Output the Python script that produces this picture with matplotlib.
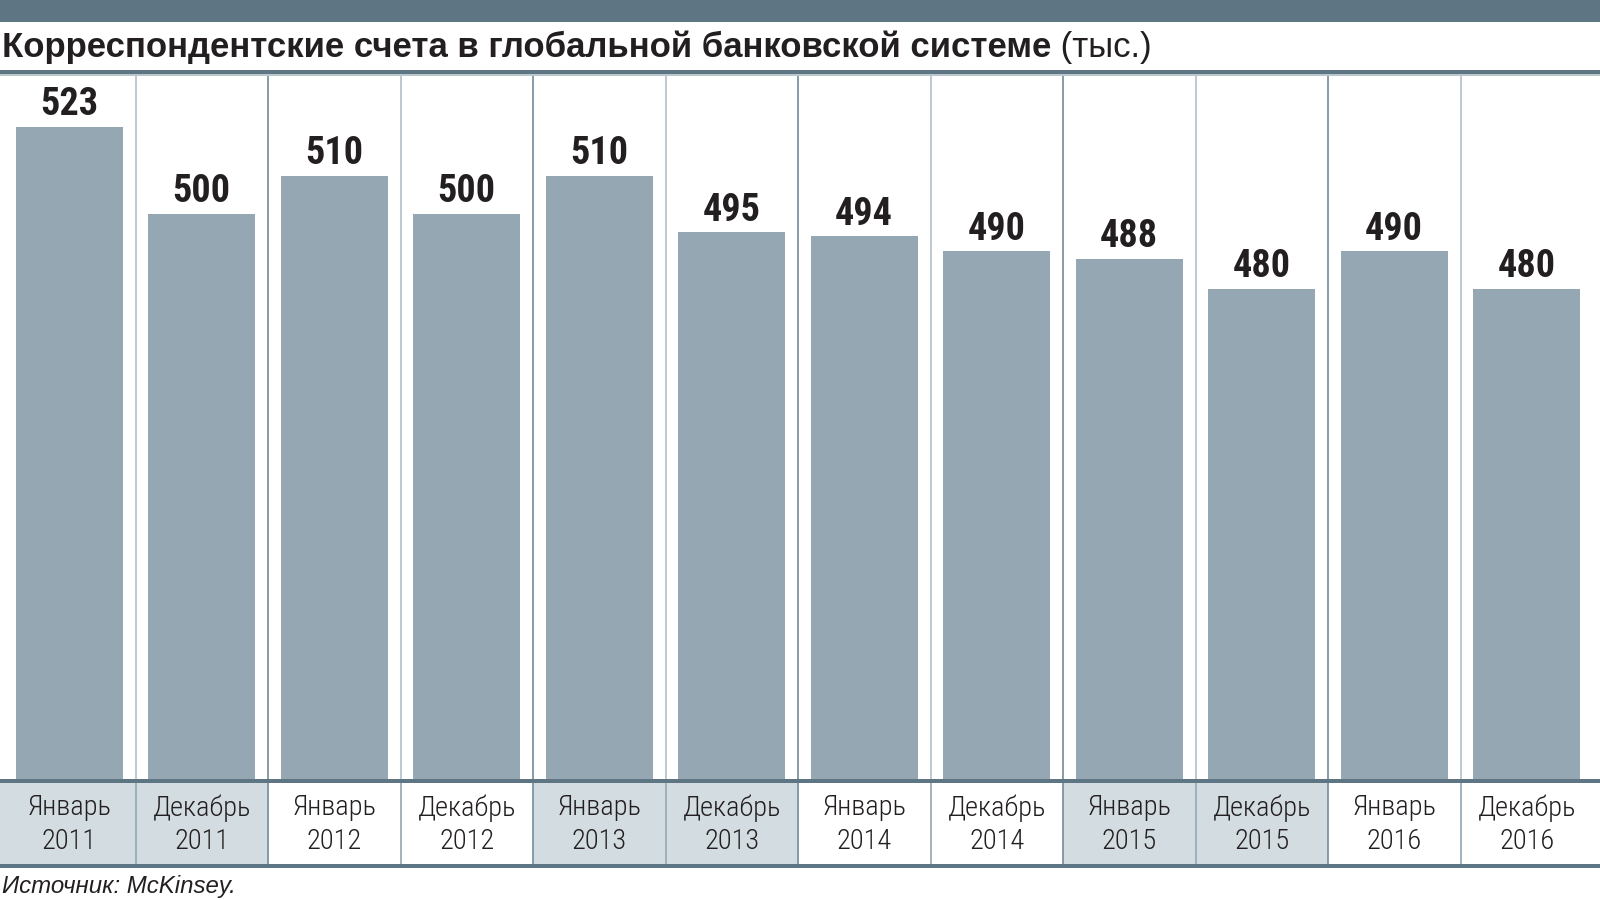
import matplotlib
matplotlib.use("Agg")
import matplotlib.pyplot as plt
from matplotlib.patches import Rectangle
import warnings
warnings.filterwarnings("ignore")

# ---- data ----
months = ["Январь", "Декабрь", "Январь", "Декабрь", "Январь", "Декабрь",
          "Январь", "Декабрь", "Январь", "Декабрь", "Январь", "Декабрь"]
years = ["2011", "2011", "2012", "2012", "2013", "2013",
         "2014", "2014", "2015", "2015", "2016", "2016"]
values = [523, 500, 510, 500, 510, 495, 494, 490, 488, 480, 490, 480]
title_bold = "Корреспондентские счета в глобальной банковской системе"
title_unit = " (тыс.)"
source = "Источник: McKinsey."

# ---- style ----
DARK = "#5E7583"
BAR = "#94A7B2"
SHADE = "#D3DCE1"
SEP_LIGHT = "#B7C5CD"
SEP_DARK = "#7D93A1"
TXT = "#231F20"
NUM_FONT = ["Roboto Condensed", "Oswald", "IBM Plex Sans Condensed", "DejaVu Sans"]
LAB_FONT = ["Roboto Condensed", "IBM Plex Sans Condensed", "DejaVu Sans"]
TITLE_FONT = ["Liberation Sans", "DejaVu Sans"]

W, H = 1600, 900
fig = plt.figure(figsize=(16, 9), dpi=100)
fig.patch.set_facecolor("white")


def fy(px):  # top-based pixel -> figure fraction
    return 1 - px / H


def hband(y0, y1, color):
    fig.add_artist(Rectangle((0, fy(y1)), 1, (y1 - y0) / H, transform=fig.transFigure,
                             facecolor=color, edgecolor="none", zorder=5))


# top band and title lines
hband(0, 22, DARK)
hband(70.5, 74, DARK)
hband(74, 75.5, "#B9C6CD")

# horizontal extent of the columns (pixels)
x_left, x_right = 3, 1593

# chart axes
chart_top, chart_bot = 75.5, 779
ax = fig.add_axes([x_left / W, fy(chart_bot), (x_right - x_left) / W,
                   (chart_bot - chart_top) / H])
n = len(values)
x = list(range(n))
ax.set_xlim(-0.5, n - 0.5)
ymin = 350
px_per_unit = 3.77
ax.set_ylim(ymin, ymin + (chart_bot - chart_top) / px_per_unit)
ax.axis("off")
ax.bar(x, [v - ymin for v in values], bottom=ymin, width=0.81, color=BAR, zorder=2)
for i in range(n - 1):
    c = SEP_DARK if i % 2 == 1 else SEP_LIGHT
    ax.axvline(i + 0.5, color=c, lw=1.3, zorder=1)
for xi, v in zip(x, values):
    ax.annotate(f"{v}", (xi, v), xytext=(0, 2.5), textcoords="offset points",
                ha="center", va="bottom", fontsize=27.5, fontweight="bold",
                family=NUM_FONT, color=TXT, fontstretch="condensed")

# bottom lines and label band
hband(779, 782.5, DARK)
band_top, band_bot = 782.5, 864
hband(864, 867.5, DARK)
ax2 = fig.add_axes([x_left / W, fy(band_bot), (x_right - x_left) / W,
                    (band_bot - band_top) / H])
ax2.set_xlim(-0.5, n - 0.5)
ax2.set_ylim(0, 1)
ax2.axis("off")
for i in range(0, n, 4):
    lo = i - 0.5 if i > 0 else -0.53
    ax2.add_patch(Rectangle((lo, 0), i + 1.5 - lo, 1, facecolor=SHADE,
                            edgecolor="none", zorder=0, clip_on=False))
for i in range(n - 1):
    c = SEP_DARK if i % 2 == 1 else "#9AADB8"
    ax2.axvline(i + 0.5, color=c, lw=1.3, zorder=1)
for xi, m, yv in zip(x, months, years):
    ax2.text(xi, 0.69, m, ha="center", va="center", fontsize=20.5, fontweight="light",
             family=LAB_FONT, color=TXT, fontstretch="condensed")
    ax2.text(xi, 0.27, yv, ha="center", va="center", fontsize=20.5, fontweight="light",
             family=LAB_FONT, color=TXT, fontstretch="condensed")

# title
t = fig.text(2 / W, fy(47), title_bold, ha="left", va="center", fontsize=25,
             fontweight="bold", family=TITLE_FONT, color=TXT)
fig.canvas.draw()
bb = t.get_window_extent()
fig.text(bb.x1 / W, fy(47), title_unit, ha="left", va="center", fontsize=25,
         family=TITLE_FONT, color=TXT)

# source
fig.text(2 / W, fy(887), source, ha="left", va="center", fontsize=17.3,
         style="italic", family=TITLE_FONT, color=TXT)

fig.savefig("out.png", dpi=100)
